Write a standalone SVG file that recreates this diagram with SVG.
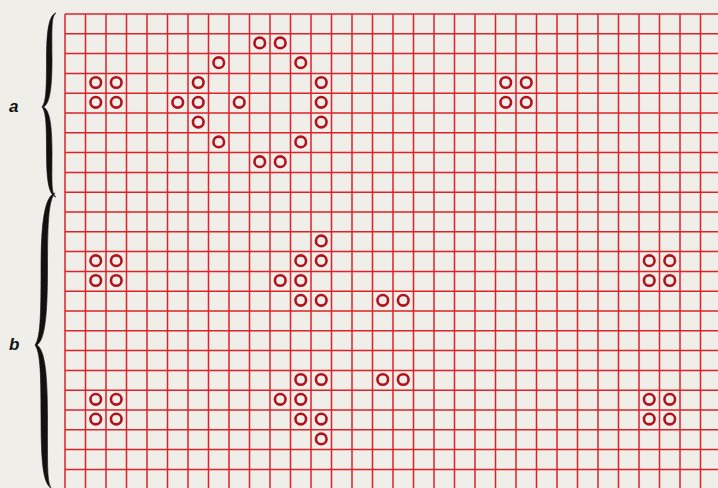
<svg xmlns="http://www.w3.org/2000/svg" width="718" height="488" viewBox="0 0 718 488">
<style>
.grid{stroke:#dc2329;stroke-width:1.5;fill:none}
.cell{fill:none;stroke:#b3121c;stroke-width:2.6}
.brace{fill:#111;stroke:#111;stroke-width:0.6}
.lbl{font-family:"Liberation Sans",Arial,sans-serif;font-size:17px;font-style:italic;font-weight:bold;fill:#111}
</style>
<defs>
<circle id="o" r="5.3" class="cell"/>
</defs>
<rect width="718" height="488" fill="#efeee9"/>
<g id="grid">
<path class="grid" d="M65 14H718M65 33.8H718M65 53.6H718M65 73.4H718M65 93.2H718M65 113H718M65 132.8H718M65 152.6H718M65 172.4H718M65 192.2H718M65 212H718M65 231.8H718M65 251.6H718M65 271.4H718M65 291.2H718M65 311H718M65 330.8H718M65 350.6H718M65 370.4H718M65 390.2H718M65 410H718M65 429.8H718M65 449.6H718M65 469.4H718"/>
<path class="grid" d="M65 14V488M85.5 14V488M106 14V488M126.5 14V488M147 14V488M167.5 14V488M188 14V488M208.5 14V488M229 14V488M249.5 14V488M270 14V488M290.5 14V488M311 14V488M331.5 14V488M352 14V488M372.5 14V488M393 14V488M413.5 14V488M434 14V488M454.5 14V488M475 14V488M495.5 14V488M516 14V488M536.5 14V488M557 14V488M577.5 14V488M598 14V488M618.5 14V488M639 14V488M659.5 14V488M680 14V488M700.5 14V488"/>
</g>
<g id="brace-a">
<path class="brace" d="M56,13 C49,15 46.5,30 46.5,60 C46.5,90 46,102 42,107 C46,112 46.5,124 46.5,152 C46.5,182 49,195 56,197 C51,194 52,182 52,152 C52,122 49,110 43.5,107 C49,104 52,92 52,60 C52,30 51,16 56,13 Z"/>
<text class="lbl" x="9" y="112">a</text>
</g>
<g id="brace-b">
<path class="brace" d="M55,193 C46,196 41,215 41,269 C41,320 40,338 35,345 C40,352 41,370 41,417 C41,470 44,484 52,489 C47,484 47.5,470 47.5,417 C47.5,368 44,350 37,345 C44,340 47.5,322 47.5,269 C47.5,218 49,200 55,193 Z"/>
<text class="lbl" x="9" y="350">b</text>
</g>
<g id="a-block-left">
<use href="#o" x="95.75" y="82.5"/><use href="#o" x="116.25" y="82.5"/>
<use href="#o" x="95.75" y="102.3"/><use href="#o" x="116.25" y="102.3"/>
</g>
<g id="a-ring">
<use href="#o" x="259.75" y="42.9"/><use href="#o" x="280.25" y="42.9"/>
<use href="#o" x="218.75" y="62.7"/><use href="#o" x="300.75" y="62.7"/>
<use href="#o" x="198.25" y="82.5"/><use href="#o" x="321.25" y="82.5"/>
<use href="#o" x="177.75" y="102.3"/><use href="#o" x="198.25" y="102.3"/><use href="#o" x="239.25" y="102.3"/><use href="#o" x="321.25" y="102.3"/>
<use href="#o" x="198.25" y="122.1"/><use href="#o" x="321.25" y="122.1"/>
<use href="#o" x="218.75" y="141.9"/><use href="#o" x="300.75" y="141.9"/>
<use href="#o" x="259.75" y="161.7"/><use href="#o" x="280.25" y="161.7"/>
</g>
<g id="a-block-right">
<use href="#o" x="505.75" y="82.5"/><use href="#o" x="526.25" y="82.5"/>
<use href="#o" x="505.75" y="102.3"/><use href="#o" x="526.25" y="102.3"/>
</g>
<g id="b-block-left-top">
<use href="#o" x="95.75" y="260.7"/><use href="#o" x="116.25" y="260.7"/>
<use href="#o" x="95.75" y="280.5"/><use href="#o" x="116.25" y="280.5"/>
</g>
<g id="b-shape-top">
<use href="#o" x="321.25" y="240.9"/>
<use href="#o" x="300.75" y="260.7"/><use href="#o" x="321.25" y="260.7"/>
<use href="#o" x="280.25" y="280.5"/><use href="#o" x="300.75" y="280.5"/>
<use href="#o" x="300.75" y="300.3"/><use href="#o" x="321.25" y="300.3"/>
</g>
<g id="b-pair-top">
<use href="#o" x="382.75" y="300.3"/><use href="#o" x="403.25" y="300.3"/>
</g>
<g id="b-block-right-top">
<use href="#o" x="649.25" y="260.7"/><use href="#o" x="669.75" y="260.7"/>
<use href="#o" x="649.25" y="280.5"/><use href="#o" x="669.75" y="280.5"/>
</g>
<g id="b-shape-bottom">
<use href="#o" x="300.75" y="379.5"/><use href="#o" x="321.25" y="379.5"/>
<use href="#o" x="280.25" y="399.3"/><use href="#o" x="300.75" y="399.3"/>
<use href="#o" x="300.75" y="419.1"/><use href="#o" x="321.25" y="419.1"/>
<use href="#o" x="321.25" y="438.9"/>
</g>
<g id="b-pair-bottom">
<use href="#o" x="382.75" y="379.5"/><use href="#o" x="403.25" y="379.5"/>
</g>
<g id="b-block-left-bottom">
<use href="#o" x="95.75" y="399.3"/><use href="#o" x="116.25" y="399.3"/>
<use href="#o" x="95.75" y="419.1"/><use href="#o" x="116.25" y="419.1"/>
</g>
<g id="b-block-right-bottom">
<use href="#o" x="649.25" y="399.3"/><use href="#o" x="669.75" y="399.3"/>
<use href="#o" x="649.25" y="419.1"/><use href="#o" x="669.75" y="419.1"/>
</g>
</svg>
